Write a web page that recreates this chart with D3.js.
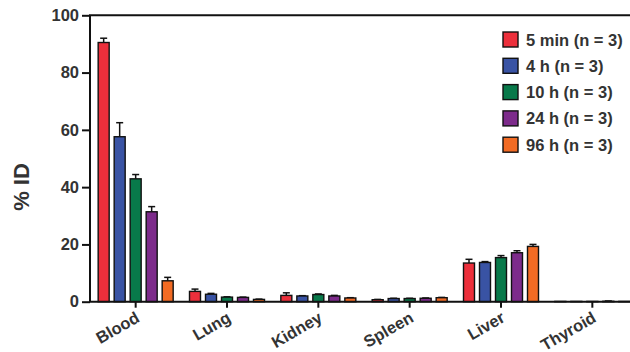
<!DOCTYPE html>
<html>
<head>
<meta charset="utf-8">
<script src="https://cdn.jsdelivr.net/npm/d3@7"></script>
<style>
  html, body { margin: 0; padding: 0; background: #fff; }
  svg { display: block; font-family: "Liberation Sans", Arial, sans-serif; }
</style>
</head>
<body>
<svg id="chart" width="630" height="352"></svg>
<script>
// Organ biodistribution (% injected dose) at five time points
const organs = ["Blood", "Lung", "Kidney", "Spleen", "Liver", "Thyroid"];
const seriesNames = ["5 min (n = 3)", "4 h (n = 3)", "10 h (n = 3)", "24 h (n = 3)", "96 h (n = 3)"];
const seriesColors = ["#ec2f3b", "#3953a4", "#08794a", "#7d2b8b", "#f26b24"];

// mean values per time point, one entry per organ
const min5  = [90.5, 3.6, 2.2, 0.7, 13.5, 0.1];
const h4    = [57.6, 2.6, 2.0, 1.1, 13.7, 0.1];
const h10   = [42.9, 1.6, 2.5, 1.1, 15.4, 0.1];
const h24   = [31.4, 1.5, 2.0, 1.2, 17.1, 0.15];
const h96   = [7.3,  0.8, 1.3, 1.4, 19.3, 0.1];

// standard deviations, same layout
const min5Err = [1.5, 0.8, 0.9, 0.1, 1.3, 0];
const h4Err   = [4.9, 0.3, 0.1, 0.1, 0.3, 0];
const h10Err  = [1.5, 0.1, 0.2, 0.1, 0.7, 0];
const h24Err  = [1.8, 0.1, 0.2, 0.1, 0.7, 0.1];
const h96Err  = [1.2, 0.1, 0.1, 0.1, 0.7, 0];

const yTicks = [0, 20, 40, 60, 80, 100];

const means = [min5, h4, h10, h24, h96];
const errs = [min5Err, h4Err, h10Err, h24Err, h96Err];

const svg = d3.select("#chart");
const margin = { left: 90, right: -8, top: 15.3, bottom: 50.3 };
const W = 630, H = 352;

const x0 = d3.scaleBand().domain(organs).range([margin.left, W - margin.right]).padding(0);
const groupW = 75;
const x1 = d3.scaleBand().domain(d3.range(seriesNames.length)).range([0, groupW])
  .paddingInner(5 / 16).paddingOuter(0);
const y = d3.scaleLinear().domain([0, 100]).range([H - margin.bottom, margin.top]);

// bars
const groups = svg.append("g").selectAll("g")
  .data(organs)
  .join("g")
  .attr("transform", d => `translate(${x0(d) + (x0.bandwidth() - groupW) / 2},0)`);

groups.each(function (organ, oi) {
  const g = d3.select(this);
  seriesNames.forEach((s, si) => {
    const v = means[si][oi];
    const e = errs[si][oi];
    const bx = x1(si);
    const bw = x1.bandwidth();
    // error bar (upper only)
    if (e > 0) {
      g.append("line")
        .attr("x1", bx + bw / 2).attr("x2", bx + bw / 2)
        .attr("y1", y(v)).attr("y2", y(v + e))
        .attr("stroke", "#111").attr("stroke-width", 1.5);
      g.append("line")
        .attr("x1", bx + bw / 2 - 3.5).attr("x2", bx + bw / 2 + 3.5)
        .attr("y1", y(v + e)).attr("y2", y(v + e))
        .attr("stroke", "#111").attr("stroke-width", 1.5);
    }
    g.append("rect")
      .attr("x", bx).attr("width", bw)
      .attr("y", y(v)).attr("height", y(0) - y(v))
      .attr("fill", seriesColors[si])
      .attr("stroke", "#111").attr("stroke-width", 1.4);
  });
});

// y axis
const yAxis = svg.append("g")
  .attr("transform", `translate(${margin.left},0)`)
  .call(d3.axisLeft(y).tickValues(yTicks).tickSize(8).tickPadding(3).tickFormat(d3.format("d")));
yAxis.select(".domain").attr("stroke", "#111").attr("stroke-width", 2)
  .attr("d", `M0,${y(0)}V${y(100)}`);
yAxis.selectAll(".tick line").attr("stroke", "#111").attr("stroke-width", 2);
yAxis.selectAll(".tick text")
  .attr("fill", "#333").attr("font-size", 16.5).attr("font-weight", "bold")
  .attr("font-family", "Liberation Sans, Arial, sans-serif");

// top frame line
svg.append("line")
  .attr("x1", margin.left - 1).attr("x2", W)
  .attr("y1", y(100)).attr("y2", y(100))
  .attr("stroke", "#111").attr("stroke-width", 2);

// x axis
const xAxis = svg.append("g")
  .attr("transform", `translate(0,${y(0)})`)
  .call(d3.axisBottom(x0).tickSize(6).tickPadding(0));
xAxis.select(".domain").attr("stroke", "#111").attr("stroke-width", 2)
  .attr("d", `M${margin.left - 1},0H${W}`);
xAxis.selectAll(".tick line").attr("stroke", "#111").attr("stroke-width", 2);
xAxis.selectAll(".tick text")
  .attr("fill", "#333").attr("font-size", 16.5).attr("font-weight", "bold")
  .attr("font-family", "Liberation Sans, Arial, sans-serif")
  .attr("text-anchor", "end")
  .attr("dy", 0)
  .attr("transform", "translate(2,14) rotate(-30)");

// y axis title
svg.append("text")
  .attr("transform", `translate(29,187) rotate(-90)`)
  .attr("text-anchor", "middle")
  .attr("font-size", 22).attr("font-weight", "bold").attr("fill", "#333")
  .text("% ID");

// legend
const legend = svg.append("g").attr("transform", "translate(503,32)");
seriesNames.forEach((s, i) => {
  const row = legend.append("g").attr("transform", `translate(0,${i * 26.3})`);
  row.append("rect").attr("x", 0).attr("y", 0).attr("width", 15).attr("height", 15)
    .attr("fill", seriesColors[i]).attr("stroke", "#111").attr("stroke-width", 1.4);
  row.append("text").attr("x", 23).attr("y", 13.5)
    .attr("font-size", 16.5).attr("font-weight", "bold").attr("fill", "#333")
    .text(s);
});
</script>
</body>
</html>
